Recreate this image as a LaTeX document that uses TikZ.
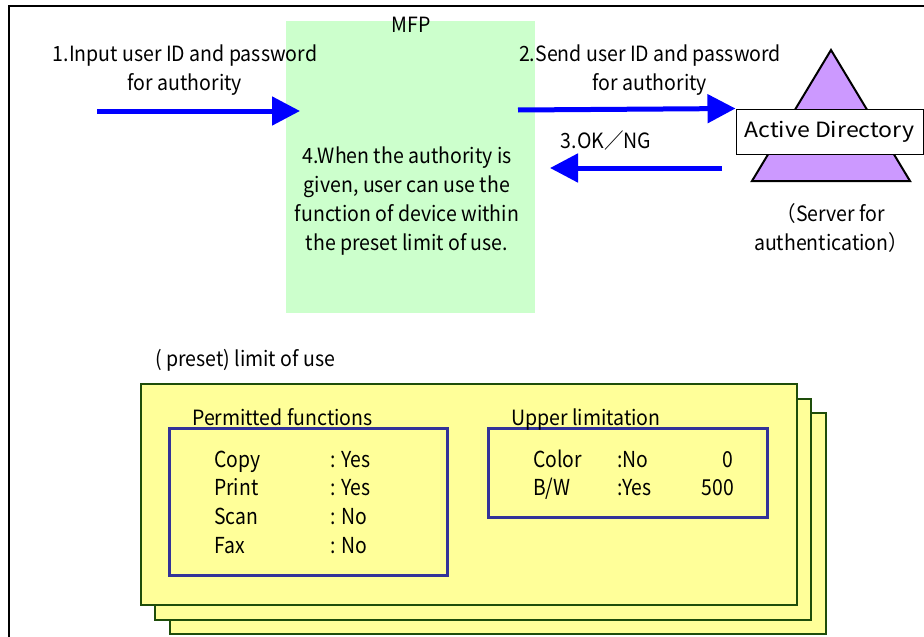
\documentclass[tikz,border=0pt]{standalone}
\usepackage{fontspec}
\setmainfont{Noto Sans CJK JP}[FakeStretch=0.93]
\newfontfamily\widefont{Noto Sans CJK JP}[FakeStretch=1.1]
\newfontfamily\narrowfont{Noto Sans CJK JP}[FakeStretch=0.88]
\usetikzlibrary{arrows.meta, positioning}
\definecolor{mfpgreen}{HTML}{CCFFCC}
\definecolor{adviolet}{HTML}{CC99FF}
\definecolor{sheetyellow}{HTML}{FFFF99}
\definecolor{sheetedge}{HTML}{1E4D0A}
\definecolor{listblue}{HTML}{333399}
\tikzset{x=1pt, y=-1pt,
    flow/.style={draw=blue, line width=5pt, -{Triangle[length=28pt,width=28pt]}},
    mfp/.style={fill=mfpgreen, minimum width=249pt, minimum height=292pt, inner sep=0pt},
    server/.style={draw, fill=adviolet, line width=2pt},
    adbox/.style={draw, fill=white, line width=1pt, minimum width=187pt, minimum height=45pt, inner sep=0pt},
    sheet/.style={draw=sheetedge, fill=sheetyellow, line width=2pt, minimum width=656pt, minimum height=221pt, inner sep=0pt},
    listbox/.style={draw=listblue, line width=3pt, inner sep=0pt},
    note/.style={font=\fontsize{21}{29}\selectfont, align=center, inner sep=0pt},
    entry/.style={font=\fontsize{21}{24}\selectfont, anchor=base west, inner sep=0pt},
    value/.style={font=\narrowfont\fontsize{22}{24}\selectfont, anchor=base west, inner sep=0pt}}

\begin{document}
\begin{tikzpicture}
\useasboundingbox (0,0) rectangle (924,637);
\draw[line width=2pt] (9,637) -- (9,6) -- (924,6);

% MFP and Active Directory
\node[mfp]  (mfp)    at (410.5,167) {};
\node[note] (mfpttl) at (411,25)    {MFP};
\draw[server] (831,50) -- (910,181) -- (752,181) -- cycle;
\node[adbox, font=\widefont\fontsize{21}{24}\selectfont] (ad) at (829.5,131.5) {Active Directory};
\node[note] (srv) at (831,228) {（Server for\\authentication）};

\node[note] (step1) at (185,70) {1.Input user ID and password\\for authority};
\node[note] (step2) at (650,70) {2.Send user ID and password\\for authority};
\node[note] (step3) at (606,141)  {3.OK／NG};
\node[note] (step4) at (407,201)  {4.When the authority is\\given, user can use the\\function of device within\\the preset limit of use.};

\coordinate (userin) at (97,111);
\coordinate (mfpin)  at (300,111);
\coordinate (mfpout) at (518,110);
\coordinate (adin)   at (722,168);
\coordinate (mfpret) at (550,168);
\draw[flow] (userin) -- (mfpin);
\draw[flow] (mfpout) -- (ad.north west);
\draw[flow] (adin) -- (mfpret);

% preset limit of use
\node[entry] (limit) at (155,366) {( preset) limit of use};
\node[sheet] (sheetc) at (497.5,523.5) {};
\node[sheet] (sheetb) at (483,509)     {};
\node[sheet] (sheeta) at (469,494.5)   {};

\node[listbox, minimum width=278pt, minimum height=147pt] (funcs) at (308,501.5)   {};
\node[listbox, minimum width=279pt, minimum height=89pt]  (upper) at (627.5,472.5) {};
\node[entry] (functtl)  at (192,425) {Permitted functions};
\node[entry] (upperttl) at (511,425) {Upper limitation};

\node[value] (copy)  at (214,467.5) {Copy};
\node[value] (print) at (214,495.5) {Print};
\node[value] (scan)  at (214,524.5) {Scan};
\node[value] (fax)   at (214,553.5) {Fax};
\node[value] (copyv)  at (330,467.5) {: Yes};
\node[value] (printv) at (330,495.5) {: Yes};
\node[value] (scanv)  at (330,524.5) {: No};
\node[value] (faxv)   at (330,553.5) {: No};

\node[value] (color)  at (533,467.5) {Color};
\node[value] (bw)     at (533,495.5) {B/W};
\node[value] (colorv) at (617,467.5) {:No};
\node[value] (bwv)    at (617,495.5) {:Yes};
\node[value, anchor=base east] (colorn) at (733,467.5) {0};
\node[value, anchor=base east] (bwn)    at (734,495.5) {500};
\end{tikzpicture}
\end{document}
